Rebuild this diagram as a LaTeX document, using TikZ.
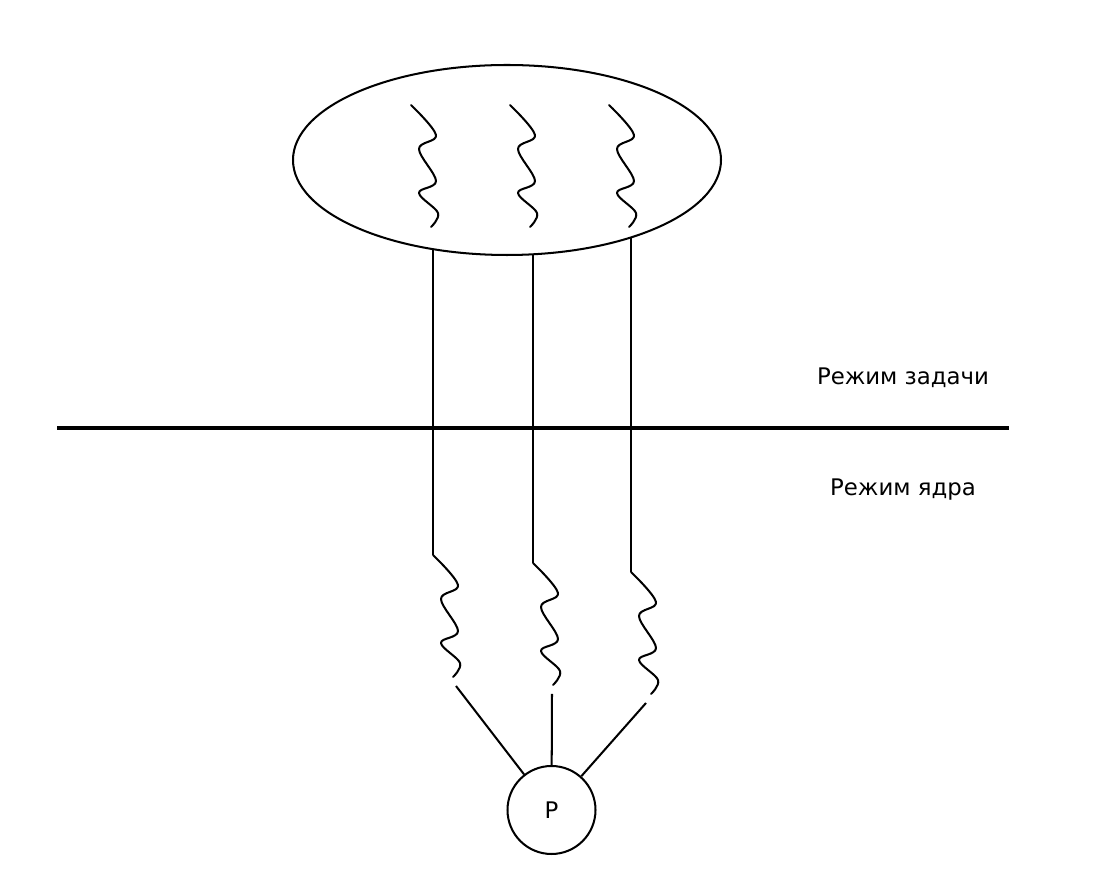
\documentclass[tikz,border=0pt]{standalone}
\usepackage{fontspec}
\setmainfont{DejaVu Sans}
\usepackage{tikz}
\usetikzlibrary{shapes.geometric}
\newcommand{\wigglecurve}{plot[smooth, tension=0.6] coordinates
  {(0,0) (25,30) (8,44) (25,76) (8,88) (27,108) (20,122)}}
\tikzset{
  px/.style={x=0.02cm, y=-0.02cm},
  thread/.style={draw=black, line width=1.15pt},
  wiggle/.style={thread, line cap=round, line join=round},
  mode line/.style={draw=black, line width=2.3pt},
  task box/.style={ellipse, draw=black, line width=1.15pt,
    minimum width=428*0.02cm, minimum height=190*0.02cm, inner sep=0pt},
  proc node/.style={circle, draw=black, line width=1.15pt,
    minimum size=88*0.02cm, inner sep=0pt,
    font=\fontsize{13}{15}\selectfont},
  mode label/.style={font=\fontsize{13}{15}\selectfont, text=black}
}
\begin{document}
\begin{tikzpicture}[px]
  \useasboundingbox (0,0) rectangle (1110,884);
  % user task with its threads
  \node[task box] (task) at (507,160) {};
  \coordinate (u1) at (411,105);
  \coordinate (u2) at (510,105);
  \coordinate (u3) at (609,105);
  \draw[wiggle, shift={(u1)}] \wigglecurve;
  \draw[wiggle, shift={(u2)}] \wigglecurve;
  \draw[wiggle, shift={(u3)}] \wigglecurve;

  % boundary between the modes
  \coordinate (bl) at (57,428);
  \coordinate (br) at (1009,428);
  \draw[mode line] (bl) -- (br);
  \node[mode label] (user) at (903,378) {Режим задачи};
  \node[mode label] (kern) at (903,490) {Режим ядра};

  % threads going down into the kernel
  \coordinate (t1) at (433,249.1);
  \coordinate (t2) at (533,254.3);
  \coordinate (t3) at (631,237.4);
  \coordinate (k1) at (433,555);
  \coordinate (k2) at (533,563);
  \coordinate (k3) at (631,572);
  \draw[thread] (t1) -- (k1);
  \draw[thread] (t2) -- (k2);
  \draw[thread] (t3) -- (k3);
  \draw[wiggle, shift={(k1)}] \wigglecurve;
  \draw[wiggle, shift={(k2)}] \wigglecurve;
  \draw[wiggle, shift={(k3)}] \wigglecurve;

  % processor
  \node[proc node] (P) at (551.5,810) {P};
  \coordinate (p1) at (456,686);
  \coordinate (p2) at (552,694);
  \coordinate (p3) at (646,703);
  \draw[thread] (p1) -- (P);
  \draw[thread] (p2) -- (P);
  \draw[thread] (p3) -- (P);
\end{tikzpicture}
\end{document}
